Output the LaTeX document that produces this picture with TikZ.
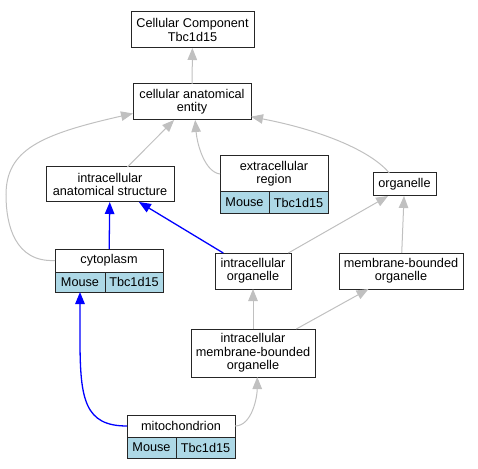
\documentclass[tikz,border=0pt]{standalone}
\usepackage{fontspec}
\setmainfont{Liberation Sans}
\usetikzlibrary{positioning}
\usetikzlibrary{arrows.meta}
\definecolor{cellblue}{HTML}{ADD8E6}
\definecolor{edgegray}{HTML}{C0C0C0}
\newcommand{\termfont}{\fontsize{12.7bp}{13.3bp}\selectfont}
\tikzset{term/.style={draw=black!85,fill=white,line width=1bp,inner sep=0pt,outer sep=0pt,align=center,font=\termfont,minimum height=36bp}}
\tikzset{cell/.style={term,fill=cellblue,minimum height=21bp}}
\tikzset{isa/.style={draw=edgegray,line width=1bp,-{Triangle[length=12bp,width=9.5bp]}}}
\tikzset{hit/.style={draw=blue,line width=1.3bp,-{Triangle[length=12bp,width=9.5bp]}}}

\begin{document}
\begin{tikzpicture}[x=1bp,y=-1bp]
\useasboundingbox (0,0) rectangle (478,469);

\node[term,minimum width=123bp] (cc) at (192.5,30) {Cellular Component\\Tbc1d15};
\node[term,minimum width=118bp] (cae) at (192,102) {cellular anatomical\\entity};
\node[term,minimum width=128bp,minimum height=35bp] (ias) at (110,184.5) {intracellular\\anatomical structure};
\node[term,minimum width=108bp] (ecr) at (274,174) {extracellular\\region};
\node[term,minimum width=63bp,minimum height=23bp] (org) at (404.5,184.5) {organelle};
\node[term,minimum width=108bp,minimum height=23bp] (cyto) at (109,260.5) {cytoplasm};
\node[term,minimum width=76bp] (io) at (253,271) {intracellular\\organelle};
\node[term,minimum width=124bp] (mbo) at (401,271) {membrane-bounded\\organelle};
\node[term,minimum width=124bp,minimum height=48bp] (imbo) at (253,353) {intracellular\\membrane-bounded\\organelle};
\node[term,minimum width=108bp,minimum height=22bp] (mito) at (181,426) {mitochondrion};

\node[cell,minimum width=49bp,below right=0pt and 0pt of ecr.south west] (ecrM) {Mouse};
\node[cell,minimum width=59bp,right=0pt of ecrM] (ecrT) {Tbc1d15};
\node[cell,minimum width=50bp,minimum height=20bp,below right=0pt and 0pt of cyto.south west] (cytoM) {Mouse};
\node[cell,minimum width=58bp,minimum height=20bp,right=0pt of cytoM] (cytoT) {Tbc1d15};
\node[cell,minimum width=49bp,below right=0pt and 0pt of mito.south west] (mitoM) {Mouse};
\node[cell,minimum width=59bp,right=0pt of mitoM] (mitoT) {Tbc1d15};

\draw[isa] (cae) -- (cc);
\draw[isa] (ias) -- (cae);
\draw[isa] (ecr.west) .. controls +(-15,-2) and +(2,25) .. (cae.280);
\draw[isa] (org.143) .. controls +(-19,-23) and +(68,13) .. (cae.346);
\draw[isa] (cyto.west) .. controls +(-40,2) and +(0,30) .. (6,195) .. controls +(0,-45) and +(-93,21) .. (cae.191);
\draw[hit] (cyto) -- (ias);
\draw[hit] (io) -- (ias);
\draw[isa] (io.27) -- (org.215);
\draw[isa] (mbo) -- (org);
\draw[isa] (imbo) -- (io);
\draw[isa] (imbo) -- (mbo);
\draw[hit] (mito.west) .. controls +(-42,0) and +(0,60) .. ([yshift=-48bp]cytoM.south) -- (cytoM.south);
\draw[isa] (mito.east) .. controls +(17,0) and +(0,20) .. (imbo.280);
\end{tikzpicture}
\end{document}
